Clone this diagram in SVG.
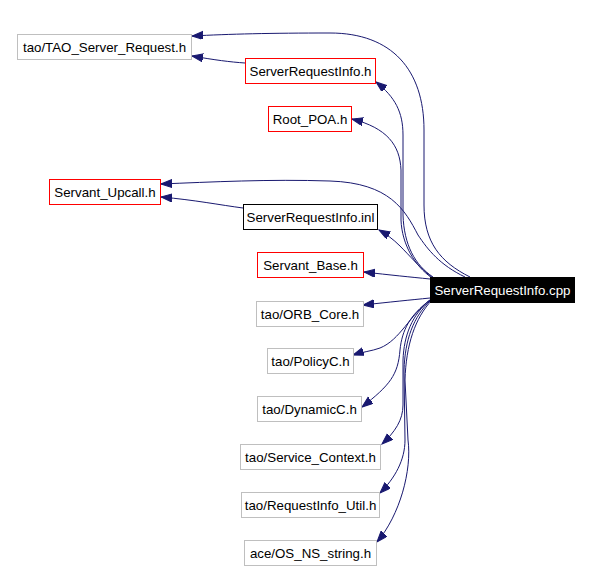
<svg xmlns="http://www.w3.org/2000/svg" width="592" height="571" viewBox="0 0 592 571">
<style>
.n rect{fill:#fff;stroke-width:1}
.g rect{stroke:#bfbfbf}
.r rect{stroke:#ff0000}
.b rect{stroke:#000}
.k rect{fill:#000;stroke:#000}
text{font-family:"Liberation Sans",Arial,sans-serif;font-size:13.3px;text-anchor:middle;fill:#000}
.k text{fill:#fff}
#edges path{fill:none;stroke:#191970;stroke-width:1;marker-end:url(#ah)}
</style>
<defs>
<marker id="ah" markerUnits="userSpaceOnUse" markerWidth="12" markerHeight="9" refX="11" refY="4" orient="auto">
<path d="M0,0 L11,4 L0,8 z" fill="#191970" stroke="#191970" stroke-width="1"/>
</marker>
</defs>
<rect width="592" height="571" fill="#fff"/>
<g id="edges">
<path d="M470,277 C440,262 424,242 424,205 L424,130 C424,70 392,33 330,33 C270,33 230,34 192,36"/>
<path d="M245,63 C230,62 215,60 192,56"/>
<path d="M433,277 C415,265 404,245 403,215 L403,135 C403,112 395,97 376,82"/>
<path d="M432,278 C415,266 402,245 401,220 L401,170 C400,145 387,128 352,119"/>
<path d="M465,277 C440,265 428,250 418,235 C405,210 390,183 330,181 C270,179 210,182 161,184"/>
<path d="M243,208 C220,205 195,200 161,197"/>
<path d="M433,278 C420,268 410,256 400,246 C393,239 386,234 379,230"/>
<path d="M430,279 C410,277 390,275 364,272"/>
<path d="M430,298 C410,300 390,302 363,305"/>
<path d="M430,300 C410,315 400,340 380,348 C372,351 362,352 353,355"/>
<path d="M430,300 C410,315 402,330 400,350 C398,375 390,385 362,407"/>
<path d="M430,300 C412,315 404,335 403,360 L403,405 C403,420 395,432 382,444"/>
<path d="M431,300 C413,317 405,340 404,370 L405,440 C405,460 395,478 380,493"/>
<path d="M432,300 C415,318 406,345 405,380 L408,440 C412,470 400,515 377,542"/>
</g>
<g id="n_cpp" class="n k"><rect x="430.5" y="277.5" width="144" height="25"/><text x="502.5" y="295">ServerRequestInfo.cpp</text></g>
<g id="n_tao_server_request" class="n g"><rect x="17.5" y="34.5" width="174" height="25"/><text x="104.5" y="52">tao/TAO_Server_Request.h</text></g>
<g id="n_sri_h" class="n r"><rect x="245.5" y="58.5" width="130" height="25"/><text x="310.5" y="76">ServerRequestInfo.h</text></g>
<g id="n_root_poa" class="n r"><rect x="268.5" y="106.5" width="83" height="25"/><text x="310" y="124">Root_POA.h</text></g>
<g id="n_servant_upcall" class="n r"><rect x="49.5" y="179.5" width="111" height="25"/><text x="105" y="197">Servant_Upcall.h</text></g>
<g id="n_sri_inl" class="n b"><rect x="243.5" y="204.5" width="134" height="25"/><text x="310.5" y="222">ServerRequestInfo.inl</text></g>
<g id="n_servant_base" class="n r"><rect x="257.5" y="252.5" width="106" height="25"/><text x="310.5" y="270">Servant_Base.h</text></g>
<g id="n_orb_core" class="n g"><rect x="256.5" y="301.5" width="107" height="25"/><text x="310" y="319">tao/ORB_Core.h</text></g>
<g id="n_policyc" class="n g"><rect x="267.5" y="348.5" width="86" height="25"/><text x="310.5" y="366">tao/PolicyC.h</text></g>
<g id="n_dynamicc" class="n g"><rect x="257.5" y="396.5" width="104" height="25"/><text x="309.5" y="414">tao/DynamicC.h</text></g>
<g id="n_service_context" class="n g"><rect x="240.5" y="444.5" width="140" height="25"/><text x="310.5" y="462">tao/Service_Context.h</text></g>
<g id="n_requestinfo_util" class="n g"><rect x="241.5" y="492.5" width="138" height="25"/><text x="310.5" y="510">tao/RequestInfo_Util.h</text></g>
<g id="n_os_ns_string" class="n g"><rect x="244.5" y="540.5" width="132" height="25"/><text x="310.5" y="558">ace/OS_NS_string.h</text></g>
</svg>
